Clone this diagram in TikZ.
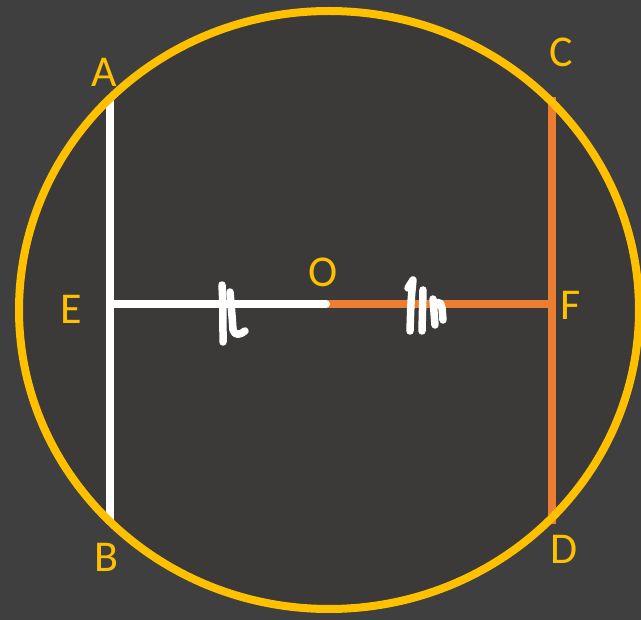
\documentclass[tikz,border=0pt]{standalone}
\usepackage{fontspec}
\setmainfont{Carlito}
\definecolor{bgout}{HTML}{3F3F3F}
\definecolor{bgin}{HTML}{3B3A39}
\definecolor{gold}{HTML}{FFC000}
\definecolor{orng}{HTML}{ED7D31}
\begin{document}
\begin{tikzpicture}[x=1pt,y=-1pt,
  lbl/.style={text=gold,font=\fontsize{44}{44}\selectfont,inner sep=0pt,anchor=center},
  seg/.style={line width=8pt},
  scrib/.style={white,line width=7.5pt,line cap=round,line join=round}]
\fill[bgout] (0,0) rectangle (641,620);
\useasboundingbox (0,0) rectangle (641,620);
\fill[bgin] (329,310) ellipse [x radius=310, y radius=299];
% points
\coordinate (A) at (110,97);
\coordinate (B) at (110,524);
\coordinate (C) at (552,97);
\coordinate (D) at (552,524);
\coordinate (E) at (110,304);
\coordinate (F) at (552,304);
\coordinate (O) at (326,304);
% segments
\draw[seg,white] (A) -- (B);
\draw[seg,orng] (C) -- (D);
\draw[seg,orng] (O) -- (F);
\draw[seg,white,line cap=round] (E) -- (O);
% scribbles
\draw[scrib] (222,285) .. controls (223,305) .. (223,342);
\draw[scrib] (230,292) .. controls (232,315) .. (233,330) .. controls (235,336) and (240,335) .. (245,331);
\draw[scrib] (408,288) -- (413,280) .. controls (411,300) .. (410,331);
\draw[scrib] (423,290) .. controls (423,310) .. (422,331);
\draw[scrib] (433,299) .. controls (434,312) .. (435,325);
\draw[scrib] (435,306) .. controls (438,300) and (441,302) .. (442,308) -- (443,320);
% circle
\draw[gold,line width=8pt] (329,310) ellipse [x radius=310, y radius=299];
% labels
\node[lbl] (lA) at (104.5,72) {A};
\node[lbl] (lB) at (106,557) {B};
\node[lbl] (lC) at (561,52) {C};
\node[lbl] (lD) at (564,549) {D};
\node[lbl] (lE) at (71,309) {E};
\node[lbl] (lF) at (571,305) {F};
\node[lbl] (lO) at (323,272) {O};
\end{tikzpicture}
\end{document}
